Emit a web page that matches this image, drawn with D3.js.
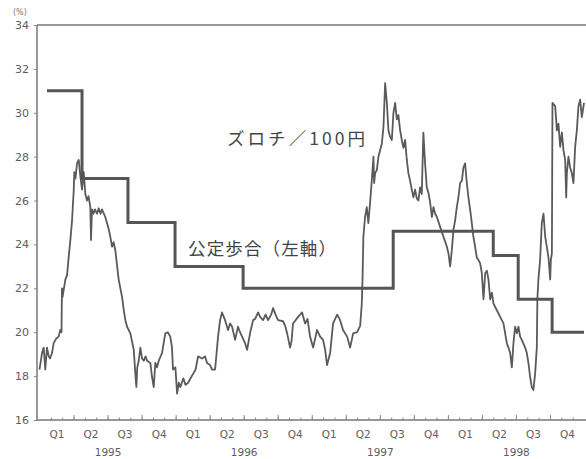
<!DOCTYPE html>
<html>
<head>
<meta charset="utf-8">
<script src="https://cdn.jsdelivr.net/npm/d3@7"></script>
<style>
  html, body { margin: 0; padding: 0; background: #fff; }
  svg { display: block; }
  .tick text { font-family: "DejaVu Sans", sans-serif; fill: #5e5e5e; }
</style>
</head>
<body>
<svg id="chart" width="586" height="459"></svg>
<script>
// months counted from Jan 1995 (0) to Dec 1998 end (48)
const quarterLabels = ["Q1", "Q2", "Q3", "Q4"];
const yearLabels = ["1995", "1996", "1997", "1998"];
const yTicks = [16, 18, 20, 22, 24, 26, 28, 30, 32, 34];

// official discount rate (left axis), [month it starts, %]
const discountRate = [
  [0.66, 31], [3.75, 27], [7.8, 25], [11.95, 23], [17.95, 22],
  [31.18, 24.6], [40.0, 23.5], [42.2, 21.5], [45.19, 20]
];

// zloty per 100 yen, [month, value]
const zloty = [
  [0, 18.3], [0.22, 19.05], [0.37, 19.3], [0.51, 18.3], [0.66, 19.3], [0.81, 18.9], [0.93, 18.8],
  [1.1, 19.05], [1.25, 19.5], [1.46, 19.7], [1.69, 19.8], [1.83, 20.1], [1.94, 20.0], [1.98, 22.0],
  [2.03, 21.6], [2.28, 22.4], [2.43, 22.6], [2.57, 23.4], [2.72, 24.2], [2.87, 25.1], [3.02, 26.5],
  [3.07, 27.3], [3.17, 27.0], [3.31, 27.7], [3.46, 27.85], [3.6, 27.1], [3.75, 26.5], [3.9, 27.3],
  [4.04, 26.3], [4.19, 26.0], [4.32, 26.2], [4.48, 25.7], [4.54, 24.2], [4.63, 25.6], [4.76, 25.4],
  [4.89, 25.6], [5.07, 25.4], [5.22, 25.65], [5.38, 25.4], [5.51, 25.6], [5.8, 25.25], [6.1, 24.7],
  [6.26, 24.3], [6.39, 23.9], [6.53, 24.1], [6.68, 23.75], [6.98, 22.4], [7.28, 21.6], [7.43, 21.0],
  [7.57, 20.55], [7.72, 20.25], [8.01, 19.95], [8.31, 19.2], [8.45, 18.1], [8.54, 17.5], [8.62, 18.4],
  [8.75, 18.7], [8.89, 19.3], [9.04, 18.8], [9.19, 18.7], [9.35, 18.9], [9.48, 18.7], [9.77, 18.6],
  [9.92, 17.96], [10.07, 17.5], [10.21, 18.6], [10.36, 18.4], [10.51, 18.7], [10.8, 19.05],
  [11.09, 19.95], [11.31, 20.0], [11.53, 19.8], [11.68, 19.3], [11.77, 18.3], [11.98, 18.4],
  [12.13, 17.2], [12.28, 17.7], [12.42, 17.5], [12.68, 17.9], [12.87, 17.6], [13.1, 17.7],
  [13.32, 17.9], [13.54, 18.1], [13.76, 18.3], [13.98, 18.9], [14.33, 18.8], [14.59, 18.9],
  [14.77, 18.6], [15.04, 18.5], [15.21, 18.3], [15.48, 18.3], [15.74, 19.8], [15.92, 20.55],
  [16.09, 20.9], [16.36, 20.55], [16.62, 20.1], [16.8, 20.4], [16.98, 20.25], [17.24, 19.65],
  [17.5, 20.25], [17.68, 20.0], [17.86, 19.8], [18.12, 19.5], [18.3, 19.2], [18.56, 19.95],
  [18.83, 20.55], [19.0, 20.6], [19.27, 20.9], [19.45, 20.7], [19.71, 20.55], [19.93, 20.8],
  [20.15, 20.55], [20.42, 20.8], [20.59, 21.1], [20.81, 20.8], [21.03, 20.55], [21.47, 20.5],
  [21.65, 20.3], [21.83, 19.95], [22.09, 19.3], [22.22, 19.6], [22.35, 20.4], [22.8, 20.7],
  [23.15, 20.9], [23.41, 20.4], [23.63, 20.6], [23.85, 19.8], [24.12, 19.3], [24.47, 20.1],
  [24.74, 19.8], [25.0, 19.65], [25.18, 19.2], [25.35, 18.5], [25.62, 19.05], [25.88, 20.4],
  [26.24, 20.8], [26.5, 20.55], [26.76, 20.1], [27.12, 19.8], [27.38, 19.3], [27.65, 19.95],
  [28.0, 20.0], [28.18, 20.2], [28.27, 20.3], [28.41, 21.3], [28.48, 22.5], [28.55, 24.35],
  [28.7, 25.25], [28.85, 25.7], [28.99, 24.97], [29.14, 25.9], [29.29, 26.9], [29.44, 28.0],
  [29.5, 26.8], [29.59, 27.25], [29.74, 27.4], [29.88, 28.0], [30.03, 28.3], [30.18, 28.6],
  [30.32, 29.35], [30.47, 31.35], [30.62, 30.45], [30.76, 29.2], [30.91, 28.9], [31.06, 28.76],
  [31.2, 30.0], [31.35, 30.45], [31.5, 29.7], [31.64, 29.9], [31.79, 29.2], [31.94, 28.76],
  [32.08, 28.4], [32.23, 28.76], [32.38, 27.85], [32.52, 27.25], [32.67, 26.9], [32.82, 26.5],
  [32.96, 26.15], [33.11, 26.5], [33.26, 26.1], [33.4, 26.0], [33.55, 26.6], [33.7, 26.3],
  [33.84, 29.1], [33.99, 27.7], [34.14, 26.6], [34.29, 26.35], [34.44, 25.9], [34.59, 25.25],
  [34.73, 25.7], [34.88, 25.4], [35.03, 25.25], [35.32, 24.8], [35.61, 24.35], [35.91, 23.9],
  [36.05, 23.6], [36.2, 23.0], [36.35, 23.75], [36.49, 24.66], [36.64, 25.1], [36.79, 25.7],
  [36.93, 26.15], [37.08, 26.8], [37.23, 26.9], [37.37, 27.5], [37.52, 27.7], [37.67, 26.8],
  [37.81, 26.15], [37.96, 25.6], [38.11, 24.97], [38.25, 24.35], [38.4, 23.9], [38.55, 23.4],
  [38.69, 23.3], [38.84, 23.15], [38.99, 22.7], [39.14, 21.5], [39.29, 22.7], [39.44, 22.8],
  [39.58, 22.4], [39.73, 21.5], [39.88, 21.8], [40.02, 21.3], [40.32, 21.0], [40.61, 20.7],
  [40.9, 20.4], [41.05, 19.95], [41.2, 19.5], [41.34, 19.3], [41.49, 19.05], [41.64, 18.4],
  [41.78, 19.5], [41.93, 20.25], [42.08, 19.95], [42.22, 20.25], [42.37, 19.8], [42.52, 19.65],
  [42.81, 19.3], [42.96, 19.05], [43.1, 18.6], [43.25, 17.96], [43.4, 17.5], [43.54, 17.37],
  [43.69, 18.1], [43.84, 19.3], [43.89, 21.5], [43.98, 22.4], [44.13, 23.3], [44.28, 24.97],
  [44.43, 25.4], [44.58, 24.35], [44.72, 23.9], [44.87, 23.4], [45.02, 22.4], [45.08, 23.3],
  [45.17, 23.6], [45.22, 30.45], [45.46, 30.3], [45.61, 29.2], [45.75, 29.5], [45.9, 28.45],
  [46.05, 29.1], [46.19, 28.3], [46.34, 27.85], [46.43, 26.15], [46.49, 27.25], [46.63, 28.0],
  [46.78, 27.5], [46.93, 27.25], [47.07, 26.8], [47.22, 28.45], [47.37, 29.2], [47.51, 30.3],
  [47.66, 30.6], [47.81, 29.8], [48.0, 30.45]
];

const svg = d3.select("#chart");
const axisX = 37, topY = 25, bottomY = 420, rightX = 586;

const x = d3.scaleLinear().domain([0, 48]).range([39.5, 584]);
const y = d3.scaleLinear().domain([16, 34]).range([bottomY, topY]);

// frame: left axis, top line, bottom axis
svg.append("line").attr("x1", axisX).attr("x2", axisX).attr("y1", topY).attr("y2", bottomY)
  .attr("stroke", "#777").attr("stroke-width", 1.5);
svg.append("line").attr("x1", axisX).attr("x2", rightX).attr("y1", topY).attr("y2", topY)
  .attr("stroke", "#777").attr("stroke-width", 1.5);
svg.append("line").attr("x1", axisX).attr("x2", rightX).attr("y1", bottomY).attr("y2", bottomY)
  .attr("stroke", "#777").attr("stroke-width", 1.5);

// y axis
const yAxis = svg.append("g")
  .attr("transform", `translate(${axisX},0)`)
  .call(d3.axisLeft(y).tickValues(yTicks).tickSize(3).tickSizeOuter(0).tickPadding(5));
yAxis.select(".domain").remove();
yAxis.selectAll(".tick line").attr("stroke", "#888");
yAxis.selectAll(".tick text").attr("font-size", 11);

svg.append("text").attr("x", 13).attr("y", 15)
  .attr("font-family", "DejaVu Sans, sans-serif").attr("font-size", 8).attr("fill", "#777")
  .text("(%)");

// x axis ticks: monthly small, quarterly larger, pointing inward
const monthAxis = svg.append("g")
  .attr("transform", `translate(0,${bottomY})`)
  .call(d3.axisBottom(x).tickValues(d3.range(1, 48)).tickSize(-2.5).tickSizeOuter(0).tickFormat(""));
monthAxis.select(".domain").remove();
monthAxis.selectAll(".tick line").attr("stroke", "#888");

const quarterAxis = svg.append("g")
  .attr("transform", `translate(0,${bottomY})`)
  .call(d3.axisBottom(x).tickValues(d3.range(3, 48, 3)).tickSize(-5).tickSizeOuter(0).tickFormat(""));
quarterAxis.select(".domain").remove();
quarterAxis.selectAll(".tick line").attr("stroke", "#888");

// quarter labels at quarter centres
const quarterCentres = d3.range(16).map(i => 1.5 + 3 * i);
const qAxis = svg.append("g")
  .attr("transform", `translate(0,${bottomY})`)
  .call(d3.axisBottom(x).tickValues(quarterCentres).tickSize(0).tickPadding(11)
    .tickFormat((d, i) => quarterLabels[i % 4]));
qAxis.select(".domain").remove();
qAxis.selectAll(".tick text").attr("font-size", 10.5);

const yearCentres = yearLabels.map((d, i) => 6 + 12 * i);
const yrAxis = svg.append("g")
  .attr("transform", `translate(0,${bottomY})`)
  .call(d3.axisBottom(x).tickValues(yearCentres).tickSize(0).tickPadding(29)
    .tickFormat((d, i) => yearLabels[i]));
yrAxis.select(".domain").remove();
yrAxis.selectAll(".tick text").attr("font-size", 10.5);

// zloty line
const line = d3.line().x(d => x(d[0])).y(d => y(d[1]));
svg.append("path").datum(zloty)
  .attr("d", line)
  .attr("fill", "none").attr("stroke", "#5a5a5a").attr("stroke-width", 1.8)
  .attr("stroke-linejoin", "round");

// discount rate steps
const steps = discountRate.concat([[48, discountRate[discountRate.length - 1][1]]]);
svg.append("path").datum(steps)
  .attr("d", d3.line().curve(d3.curveStepAfter).x(d => x(d[0])).y(d => y(d[1])))
  .attr("fill", "none").attr("stroke", "#555").attr("stroke-width", 3);

// annotations
svg.append("text").attr("x", 227).attr("y", 145)
  .attr("font-family", "Noto Sans CJK JP, sans-serif").attr("font-size", 17.5).attr("fill", "#444")
  .attr("textLength", 138).attr("lengthAdjust", "spacing")
  .text("ズロチ／100円");
svg.append("text").attr("x", 188).attr("y", 255)
  .attr("font-family", "Noto Sans CJK JP, sans-serif").attr("font-size", 17.5).attr("fill", "#444")
  .attr("textLength", 148).attr("lengthAdjust", "spacing")
  .text("公定歩合（左軸）");
</script>
</body>
</html>
